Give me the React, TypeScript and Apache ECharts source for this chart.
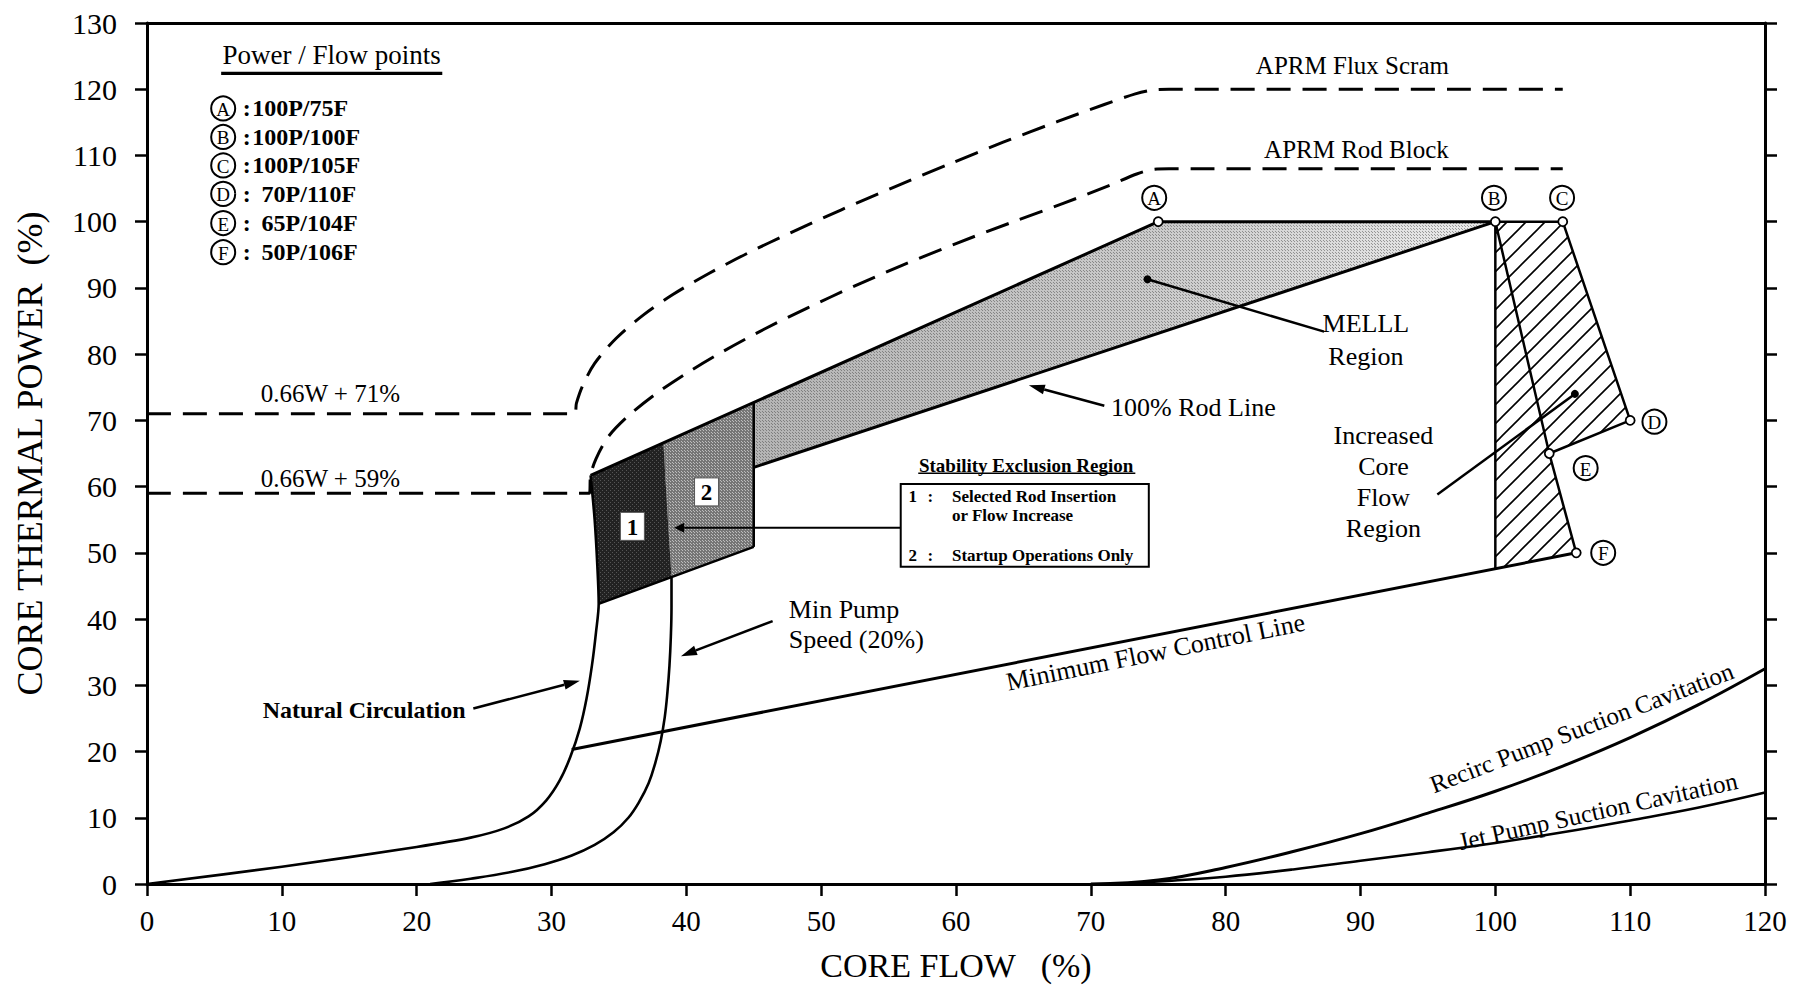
import { useEffect, useRef } from 'react';
import * as echarts from 'echarts';

type P = [number, number];

// ---- axes ----
const FLOW_MIN = 0;
const FLOW_MAX = 120;
const POWER_MIN = 0;
const POWER_MAX = 130;
const TICK_STEP = 10;

// ---- curves (core flow %, core thermal power %) ----
const naturalCirculation: P[] = [
  [0, 0], [10, 2.6], [20, 5.6], [24, 7], [26.5, 8.4], [28.3, 10.2], [29.6, 12.6], [30.6, 15.6],
  [31.4, 19.2], [32.1, 23.5], [32.6, 28], [33, 33], [33.3, 38], [33.5, 42.3], [33.4, 48],
  [33.2, 55], [32.9, 61.7],
];
const minPumpSpeed: P[] = [
  [21, 0], [24, 0.8], [27, 1.8], [29.5, 3], [31.5, 4.3], [33.2, 5.9], [34.6, 7.8], [35.7, 10],
  [36.5, 12.4], [37.2, 15.2], [37.7, 18.3], [38.1, 21.6], [38.4, 25.2], [38.6, 29], [38.75, 33],
  [38.85, 37.3], [38.9, 41.8], [38.9, 46.4],
];
const upperBoundary: P[] = [[32.9, 61.7], [75, 100], [100, 100]];
const rodLine100: P[] = [[45, 62.9], [100, 100]];
const region2Edge: P[] = [[45, 72.7], [45, 50.9]];
const exclusionBottom: P[] = [[33.5, 42.3], [45, 50.9]];
const minFlowControl: P[] = [[31.5, 20.3], [106, 50]];
const flow100Edge: P[] = [[100, 100], [100, 47.6]];
const pointsBCDE: P[] = [[100, 100], [105, 100], [110, 70], [104, 65]];
const pointsBEF: P[] = [[100, 100], [104, 65], [106, 50]];
const fluxScram: P[] = [
  [0, 71], [31.7, 71], [31.85, 72.6], [32.3, 75.2], [33.2, 78.6], [34.8, 82.4], [36.8, 85.9],
  [39, 89], [41.6, 92.1], [44.5, 95.2], [47.8, 98.4], [51.5, 101.8], [55.5, 105.3], [59.5, 108.7],
  [63.5, 112], [67.5, 115.1], [71, 117.7], [73.3, 119.3], [74.6, 119.9], [75.8, 120], [105, 120],
];
const rodBlock: P[] = [
  [0, 59], [32.8, 59], [32.9, 61.7], [33.3, 64.2], [34.2, 67.5], [35.6, 70.5], [37.6, 73.8],
  [40, 77.1], [42.8, 80.5], [45.8, 83.8], [49, 87], [52.5, 90.3], [56, 93.4], [60, 96.7],
  [64, 99.8], [68, 102.8], [71.3, 105.4], [73.4, 107.2], [74.6, 107.9], [75.8, 108], [105, 108],
];
const recircCavitation: P[] = [
  [70, 0], [75, 0.6], [80, 2.5], [85, 4.9], [90, 7.6], [95, 10.7], [100, 14], [105, 17.8],
  [110, 22.1], [115, 27], [120, 32.5],
];
const jetCavitation: P[] = [
  [72, 0], [76, 0.5], [80, 1.1], [85, 2.2], [90, 3.5], [95, 4.8], [100, 6.2], [105, 7.8],
  [110, 9.6], [115, 11.5], [120, 13.8],
];

// ---- regions ----
const region1: P[] = [[33.5, 42.3], [33.4, 48], [33.2, 55], [32.9, 61.7], [38.3, 66.6], [38.6, 56], [38.9, 46.4]];
const region2: P[] = [[38.9, 46.4], [38.6, 56], [38.3, 66.6], [45, 72.7], [45, 50.9]];
const melllRegion: P[] = [[45, 72.7], [75, 100], [100, 100], [45, 62.9]];
const increasedCoreFlowRegion: P[] = [[100, 100], [105, 100], [110, 70], [104, 65], [106, 50], [100, 47.6]];

// ---- power / flow points ----
const pointNames = ['A', 'B', 'C', 'D', 'E', 'F'];
const pointPower = [100, 100, 100, 70, 65, 50];
const pointFlow = [75, 100, 105, 110, 104, 106];

const FONT = 'Liberation Serif';

function hatchPattern() {
  const c = document.createElement('canvas');
  c.width = 19;
  c.height = 19;
  const g = c.getContext('2d')!;
  g.strokeStyle = '#000';
  g.lineWidth = 1.6;
  g.beginPath();
  g.moveTo(-2, 21); g.lineTo(21, -2);
  g.moveTo(-12, 12); g.lineTo(12, -12);
  g.moveTo(7, 31); g.lineTo(31, 7);
  g.stroke();
  return { image: c.toDataURL(), repeat: 'repeat', imageWidth: 19, imageHeight: 19 } as any;
}

function dotPattern(size: number, color: string) {
  const c = document.createElement('canvas');
  c.width = size;
  c.height = size;
  const g = c.getContext('2d')!;
  g.fillStyle = color;
  g.fillRect(0, 0, 1, 1);
  g.fillRect(Math.floor(size / 2), Math.floor(size / 2), 1, 1);
  return { image: c.toDataURL(), repeat: 'repeat', imageWidth: size, imageHeight: size } as any;
}

function polygonSeries(points: P[], fill: any, z: number) {
  return {
    type: 'custom',
    z,
    silent: true,
    data: [points[0]],
    renderItem: (_p: any, api: any) => ({
      type: 'polygon',
      shape: { points: points.map((pt) => api.coord(pt)) },
      style: { fill, stroke: 'none' },
    }),
  };
}

function lineSeries(data: P[], width: number, opts: any = {}) {
  return {
    type: 'line',
    data,
    symbol: 'none',
    silent: true,
    z: 4,
    smooth: opts.smooth ?? false,
    lineStyle: { color: '#000', width, type: opts.dash ?? 'solid', cap: 'butt', join: 'round' },
  };
}

function buildGraphics(chart: any) {
  const px = (p: P): number[] => chart.convertToPixel({ seriesIndex: 0 }, p) as number[];
  const els: any[] = [];
  const text = (p: P, t: string, o: any = {}) => {
    const [x, y] = px(p);
    const align = o.align || 'center';
    els.push({
      type: 'text', x, y, z: 100,
      rotation: o.rot ? (o.rot * Math.PI) / 180 : 0,
      style: {
        text: t, fontFamily: FONT, fontSize: o.size || 26, fontWeight: o.bold ? 'bold' : 'normal',
        fill: '#000', align, textAlign: align, verticalAlign: 'middle', textVerticalAlign: 'middle',
      },
    });
  };
  const segPx = (a: number[], b: number[], w: number) => {
    els.push({ type: 'line', z: 99, shape: { x1: a[0], y1: a[1], x2: b[0], y2: b[1] }, style: { stroke: '#000', lineWidth: w } });
  };
  const seg = (a: P, b: P, w = 2.5) => segPx(px(a), px(b), w);
  const arrow = (from: P, to: P, w = 2.5, head = 16) => {
    const a = px(from);
    const b = px(to);
    const dx = b[0] - a[0];
    const dy = b[1] - a[1];
    const L = Math.hypot(dx, dy);
    const ux = dx / L;
    const uy = dy / L;
    const base = [b[0] - ux * head, b[1] - uy * head];
    segPx(a, base, w);
    els.push({
      type: 'polygon', z: 99,
      shape: { points: [b, [base[0] - uy * 5, base[1] + ux * 5], [base[0] + uy * 5, base[1] - ux * 5]] },
      style: { fill: '#000' },
    });
  };
  const dot = (p: P, r = 4) => {
    const [x, y] = px(p);
    els.push({ type: 'circle', z: 100, shape: { cx: x, cy: y, r }, style: { fill: '#000' } });
  };
  const circled = (p: P, letter: string, r = 12, size = 19) => {
    const [x, y] = px(p);
    els.push({ type: 'circle', z: 100, shape: { cx: x, cy: y, r }, style: { fill: '#fff', stroke: '#000', lineWidth: 2 } });
    els.push({
      type: 'text', x, y: y + 1, z: 101,
      style: { text: letter, fontFamily: FONT, fontSize: size, fill: '#000', align: 'center', textAlign: 'center', verticalAlign: 'middle', textVerticalAlign: 'middle' },
    });
  };
  const boxedLabel = (p: P, t: string) => {
    const [x, y] = px(p);
    els.push({ type: 'rect', z: 100, shape: { x: x - 12, y: y - 14, width: 24, height: 28 }, style: { fill: '#fff', stroke: '#555', lineWidth: 1 } });
    els.push({
      type: 'text', x, y: y + 1, z: 101,
      style: { text: t, fontFamily: FONT, fontSize: 23, fontWeight: 'bold', fill: '#000', align: 'center', textAlign: 'center', verticalAlign: 'middle', textVerticalAlign: 'middle' },
    });
  };

  // legend block
  text([13.7, 125.2], 'Power / Flow points', { size: 27 });
  seg([5.5, 122.4], [21.9, 122.4], 3.2);
  const legendRows = [117.1, 112.8, 108.5, 104.2, 99.8, 95.4];
  pointNames.forEach((n, i) => {
    circled([5.65, legendRows[i]], n, 12, 19);
    text([7.1, legendRows[i]], ':', { size: 24, bold: true, align: 'left' });
    const lbl = `${pointPower[i]}P/${pointFlow[i]}F`;
    text([pointPower[i] >= 100 ? 7.8 : 8.5, legendRows[i]], lbl, { size: 24, bold: true, align: 'left' });
  });

  // limit line labels
  text([89.4, 123.6], 'APRM Flux Scram', { size: 25 });
  text([89.7, 110.9], 'APRM Rod Block', { size: 25 });
  text([13.6, 74.0], '0.66W + 71%', { size: 25 });
  text([13.6, 61.3], '0.66W + 59%', { size: 25 });

  // point labels
  const labelPos: P[] = [[74.7, 103.6], [99.9, 103.6], [104.95, 103.6], [111.8, 69.8], [106.7, 62.8], [108, 50]];
  pointNames.forEach((n, i) => circled(labelPos[i], n, 12, 19));

  // MELLL
  text([90.4, 84.6], 'MELLL');
  text([90.4, 79.7], 'Region');
  dot([74.2, 91.3]);
  seg([74.2, 91.3], [87.3, 83.4]);

  // Increased core flow
  text([91.7, 67.7], 'Increased');
  text([91.7, 63.0], 'Core');
  text([91.7, 58.3], 'Flow');
  text([91.7, 53.7], 'Region');
  seg([95.7, 58.8], [105.9, 74.0]);
  dot([105.9, 74.0]);

  // 100% rod line
  text([71.5, 72.0], '100% Rod Line', { align: 'left' });
  arrow([71.0, 72.2], [65.4, 75.3]);

  // stability exclusion region
  text([65.2, 63.2], 'Stability Exclusion Region', { size: 19, bold: true });
  {
    const a = px([57.2, 62.0]);
    const b = px([73.3, 62.0]);
    segPx(a, b, 1.5);
    const tl = px([55.9, 60.4]);
    const br = px([74.3, 47.9]);
    els.push({ type: 'rect', z: 98, shape: { x: tl[0], y: tl[1], width: br[0] - tl[0], height: br[1] - tl[1] }, style: { fill: '#fff', stroke: '#000', lineWidth: 2 } });
  }
  text([56.8, 58.5], '1', { size: 17, bold: true });
  text([58.1, 58.5], ':', { size: 17, bold: true });
  text([59.7, 58.5], 'Selected Rod Insertion', { size: 17, bold: true, align: 'left' });
  text([59.7, 55.7], 'or Flow Increase', { size: 17, bold: true, align: 'left' });
  text([56.8, 49.6], '2', { size: 17, bold: true });
  text([58.1, 49.6], ':', { size: 17, bold: true });
  text([59.7, 49.6], 'Startup Operations Only', { size: 17, bold: true, align: 'left' });
  arrow([55.9, 53.8], [39.1, 53.8], 2, 10);
  boxedLabel([36, 54], '1');
  boxedLabel([41.5, 59.2], '2');

  // min pump speed
  text([47.6, 41.4], 'Min Pump', { align: 'left' });
  text([47.6, 36.9], 'Speed (20%)', { align: 'left' });
  arrow([46.4, 39.7], [39.6, 34.4]);

  // natural circulation
  text([16.1, 26.2], 'Natural Circulation', { size: 24, bold: true });
  arrow([24.2, 26.5], [32.1, 30.7]);

  // rotated line labels
  text([74.8, 35.0], 'Minimum Flow Control Line', { rot: 11.5 });
  text([106.4, 23.6], 'Recirc Pump Suction Cavitation', { rot: 21, size: 25 });
  text([107.6, 11.0], 'Jet Pump Suction Cavitation', { rot: 12.5, size: 25 });

  return els;
}

export default function App() {
  const ref = useRef<HTMLDivElement>(null);

  useEffect(() => {
    const el = ref.current!;
    const chart = echarts.init(el, null, { renderer: 'svg' });

    const melllFill = new echarts.graphic.LinearGradient(0, 0, 1, 0, [
      { offset: 0, color: '#b4b4b4' },
      { offset: 0.55, color: '#cbcbcb' },
      { offset: 1, color: '#ebebeb' },
    ]);

    const flowAxis = {
      min: FLOW_MIN,
      max: FLOW_MAX,
      interval: TICK_STEP,
      splitLine: { show: false },
    };
    const powerAxis = {
      min: POWER_MIN,
      max: POWER_MAX,
      interval: TICK_STEP,
      splitLine: { show: false },
    };

    const option: any = {
      animation: false,
      backgroundColor: '#fff',
      textStyle: { fontFamily: FONT, color: '#000' },
      grid: { left: 147, right: 40, top: 23, bottom: 102, containLabel: false },
      xAxis: [
        {
          ...flowAxis,
          type: 'value',
          position: 'bottom',
          name: 'CORE FLOW   (%)',
          nameLocation: 'middle',
          nameGap: 64,
          nameTextStyle: { fontFamily: FONT, fontSize: 34, color: '#000' },
          axisLine: { show: true, onZero: false, lineStyle: { color: '#000', width: 3 } },
          axisTick: { show: true, length: 12, lineStyle: { color: '#000', width: 2.5 } },
          axisLabel: { fontFamily: FONT, fontSize: 29, color: '#000', margin: 22 },
        },
        {
          ...flowAxis,
          type: 'value',
          position: 'top',
          axisLine: { show: true, onZero: false, lineStyle: { color: '#000', width: 3 } },
          axisTick: { show: false },
          axisLabel: { show: false },
        },
      ],
      yAxis: [
        {
          ...powerAxis,
          type: 'value',
          position: 'left',
          name: 'CORE THERMAL POWER  (%)',
          nameLocation: 'middle',
          nameRotate: 90,
          nameGap: 99,
          nameTextStyle: { fontFamily: FONT, fontSize: 36, color: '#000' },
          axisLine: { show: true, onZero: false, lineStyle: { color: '#000', width: 3 } },
          axisTick: { show: true, length: 12, lineStyle: { color: '#000', width: 2.5 } },
          axisLabel: { fontFamily: FONT, fontSize: 30, color: '#000', margin: 30 },
        },
        {
          ...powerAxis,
          type: 'value',
          position: 'right',
          axisLine: { show: true, onZero: false, lineStyle: { color: '#000', width: 3 } },
          axisTick: { show: true, length: 12, lineStyle: { color: '#000', width: 2.5 } },
          axisLabel: { show: false },
        },
      ],
      series: [
        // index 0 used for pixel conversion
        lineSeries(minFlowControl, 3),
        polygonSeries(melllRegion, melllFill, 1),
        polygonSeries(melllRegion, dotPattern(3, 'rgba(60,60,60,0.45)'), 1),
        polygonSeries(region2, '#767676', 1),
        polygonSeries(region2, dotPattern(3, '#bdbdbd'), 1),
        polygonSeries(region1, '#222222', 1),
        polygonSeries(region1, dotPattern(4, '#555'), 1),
        polygonSeries(increasedCoreFlowRegion, hatchPattern(), 1),
        lineSeries(naturalCirculation, 2.6, { smooth: 0.3 }),
        lineSeries(minPumpSpeed, 2.6, { smooth: 0.4 }),
        lineSeries(upperBoundary, 3),
        lineSeries(rodLine100, 3),
        lineSeries(region2Edge, 2.5),
        lineSeries(exclusionBottom, 2.5),
        lineSeries(flow100Edge, 2.5),
        lineSeries(pointsBCDE, 2.5),
        lineSeries(pointsBEF, 2.5),
        lineSeries(fluxScram, 3, { smooth: 0.3, dash: [24, 12] }),
        lineSeries(rodBlock, 3, { smooth: 0.3, dash: [24, 12] }),
        lineSeries(recircCavitation, 3, { smooth: 0.4 }),
        lineSeries(jetCavitation, 2.6, { smooth: 0.4 }),
        {
          type: 'scatter',
          z: 6,
          silent: true,
          symbol: 'circle',
          symbolSize: 9,
          data: pointFlow.map((f, i) => [f, pointPower[i]]),
          itemStyle: { color: '#fff', borderColor: '#000', borderWidth: 1.8, opacity: 1 },
        },
      ],
    };

    chart.setOption(option);
    chart.setOption({ graphic: { elements: buildGraphics(chart) } });

    return () => chart.dispose();
  }, []);

  return (
    <div
      ref={ref}
      style={{ position: 'fixed', left: 0, top: 0, width: 1805, height: 987, background: '#fff' }}
    />
  );
}
